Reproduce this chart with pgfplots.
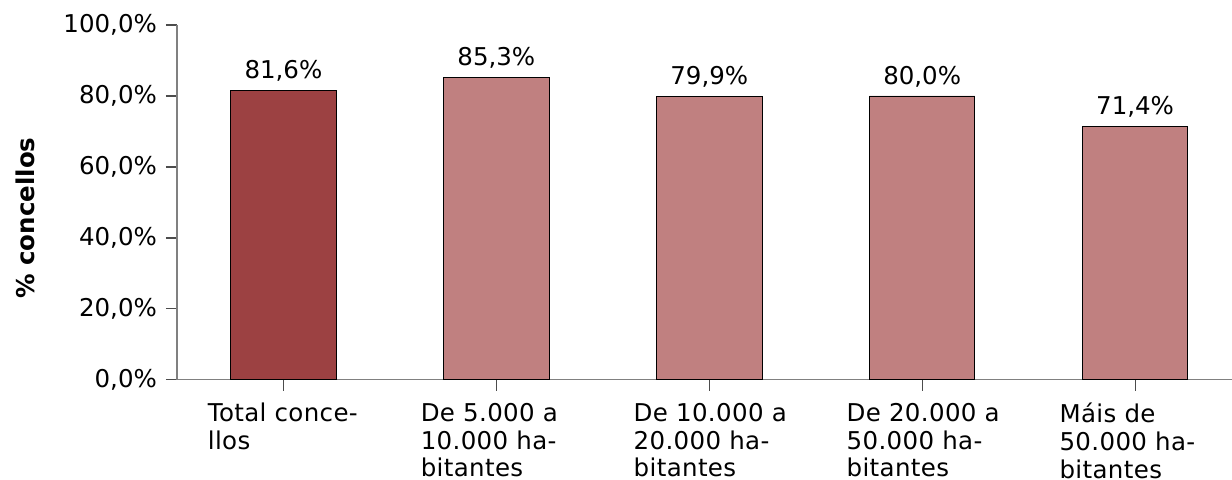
\documentclass[border=0pt]{standalone}
\usepackage{fontspec}
\setmainfont{DejaVu Sans}
\newfontfamily\spaced[LetterSpace=1.5]{DejaVu Sans}
\usepackage{pgfplots}
\pgfplotsset{compat=1.18}
\definecolor{darkbar}{HTML}{9C4142}
\definecolor{lightbar}{HTML}{C08080}
\definecolor{axgray}{HTML}{808080}
\begin{document}
\begin{tikzpicture}[font=\fontsize{12.25}{16.5}\selectfont]
\begin{axis}[
  name=ax,
  scale only axis,
  width=527.7pt, height=177.5pt,
  xmin=-0.5, xmax=4.455,
  ymin=0, ymax=100,
  axis x line*=bottom, axis y line*=left,
  axis line style={draw=axgray, line width=0.6pt},
  ytick={0,20,40,60,80,100},
  xtick={0,1,2,3,4},
  xticklabels={{Total conce-\\llos},{De 5.000 a\\10.000 ha-\\bitantes},{De 10.000 a\\20.000 ha-\\bitantes},{De 20.000 a\\50.000 ha-\\bitantes},{Máis de\\50.000 ha-\\bitantes}},
  xticklabel style={anchor=north west, xshift=-38pt, align=left, yshift=-6pt, inner sep=0pt,
    font=\spaced\fontsize{12.25}{13.8}\selectfont},
  yticklabel={\pgfmathprintnumber[fixed,zerofill,precision=1,use comma]{\tick}\%},
  /pgf/number format/assume math mode=true,
  tick align=outside,
  major tick length=5.5pt,
  tick style={draw=black!70, line width=0.6pt},
  yticklabel style={xshift=-1pt},
  ylabel={\bfseries\% concellos},
  ylabel style={at={(axis description cs:-0.144,0.456)}, anchor=center},
  ybar, bar width=0.495,
  nodes near coords={\pgfmathprintnumber[fixed,zerofill,precision=1,use comma]{\pgfplotspointmeta}\%},
  nodes near coords style={yshift=1pt},
  clip=false,
]
\addplot[bar shift=0pt, fill=darkbar, draw=black, line width=0.4pt] coordinates {(0,81.6)};
\addplot[bar shift=0pt, fill=lightbar, draw=black, line width=0.4pt] coordinates {(1,85.3) (2,79.9) (3,80.0) (4,71.4)};
\end{axis}
\pgfresetboundingbox
\path ([xshift=-88.5pt,yshift=-50pt]ax.south west) rectangle ([yshift=12.5pt]ax.north east);
\end{tikzpicture}
\end{document}
